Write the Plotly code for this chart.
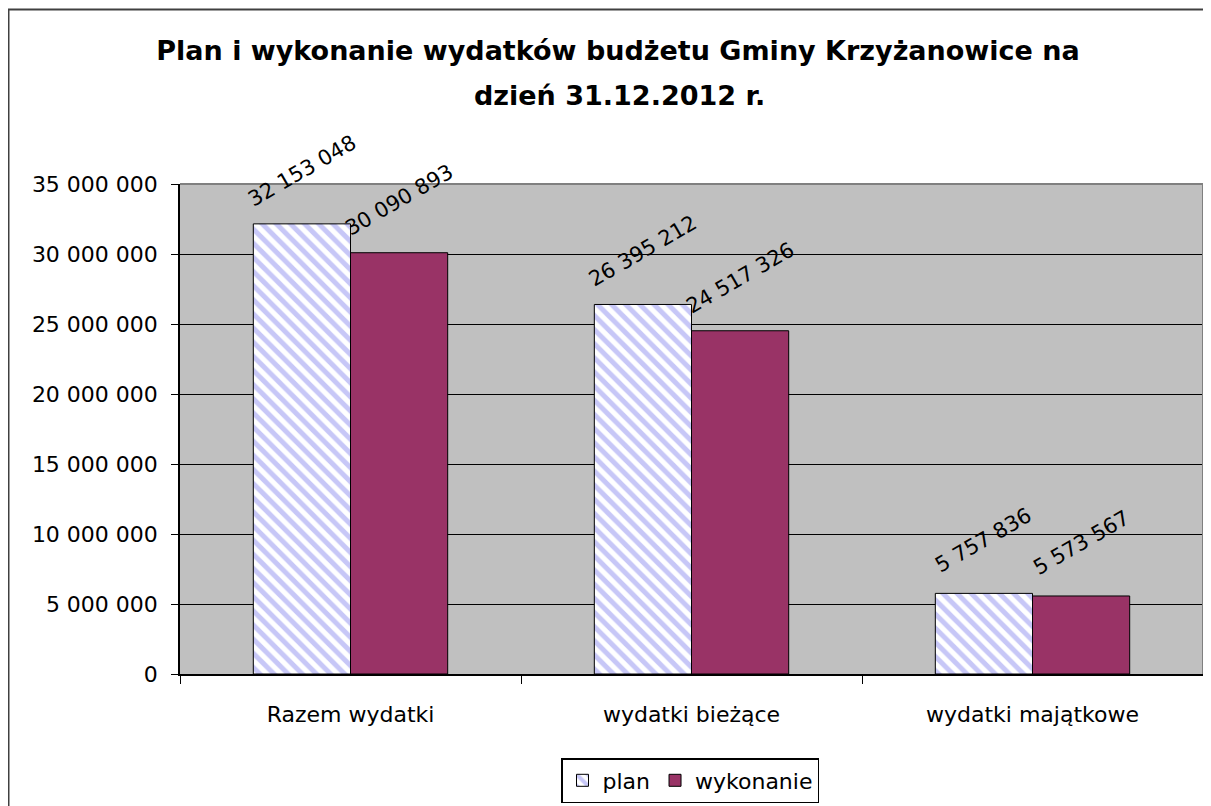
import plotly.graph_objects as go

categories = ["Razem wydatki", "wydatki bieżące", "wydatki majątkowe"]
plan = [32153048, 26395212, 5757836]
wykonanie = [30090893, 24517326, 5573567]
series_names = ["plan", "wykonanie"]
title_line1 = "Plan i wykonanie wydatków budżetu Gminy Krzyżanowice na"
title_line2 = "dzień 31.12.2012 r."
y_ticks = [0, 5000000, 10000000, 15000000, 20000000, 25000000, 30000000, 35000000]

FONT = "DejaVu Sans"
OFF = 8  # page body margin
W, H = 1211 - OFF, 806 - OFF
ML, MT = 180 - OFF, 184 - OFF
MR = W - (1203 - OFF)
MB = H - (674 - OFF)
BARGAP = 0.43


def fmt(v):
    return f"{v:,}".replace(",", " ")


pw = W - ML - MR
ph = H - MT - MB


def px_x(px):  # page px -> paper x
    return (px - OFF - ML) / pw


def px_y(py):  # page px -> paper y
    return (H - MB - (py - OFF)) / ph


fig = go.Figure()
fig.add_trace(go.Bar(
    x=categories, y=plan, name=series_names[0],
    marker=dict(color="white", line=dict(color="black", width=1),
                pattern=dict(shape="\\", fgcolor="#8f8fef", bgcolor="white",
                             size=10, solidity=0.5, fillmode="overlay")),
))
fig.add_trace(go.Bar(
    x=categories, y=wykonanie, name=series_names[1],
    marker=dict(color="#993366", line=dict(color="black", width=1)),
))

half = (1 - BARGAP) / 4
annotations = []
for i, (p, w) in enumerate(zip(plan, wykonanie)):
    for off, v in ((-half, p), (half, w)):
        annotations.append(dict(
            x=i + off, y=v, xref="x", yref="y", text=fmt(v), showarrow=False,
            textangle=-30, yshift=53, xanchor="center", yanchor="middle",
            font=dict(family=FONT, size=21, color="black"),
        ))

# second title line
annotations.append(dict(
    x=px_x(619), y=px_y(95), xref="paper", yref="paper", text="<b>" + title_line2 + "</b>",
    showarrow=False, xanchor="center", yanchor="middle",
    font=dict(family=FONT, size=27, color="black"),
))

shapes = [
    # chart outer border
    dict(type="rect", xref="paper", yref="paper",
         x0=px_x(8.5), x1=px_x(1240), y0=px_y(840), y1=px_y(9.5),
         line=dict(color="#404040", width=2), layer="below"),
    # plot area border (top and right, gray)
    dict(type="line", xref="paper", yref="paper", x0=0, x1=1, y0=1, y1=1,
         line=dict(color="#808080", width=2), layer="above"),
    dict(type="line", xref="paper", yref="paper", x0=1, x1=1, y0=0, y1=1,
         line=dict(color="#808080", width=2), layer="above"),
]

fig.update_layout(
    width=W, height=H,
    margin=dict(l=ML, r=MR, t=MT, b=MB, autoexpand=False),
    paper_bgcolor="white", plot_bgcolor="#c0c0c0",
    separators=", ",
    barmode="group", bargap=BARGAP, bargroupgap=0,
    font=dict(family=FONT, size=22, color="black"),
    title=dict(text=title_line1, x=(618 - OFF) / W, xref="container", xanchor="center",
               y=1 - (51 - OFF) / H, yref="container", yanchor="middle",
               font=dict(family=FONT, size=27, color="black", weight="bold")),
    showlegend=True,
    legend=dict(orientation="h", x=px_x(690), xanchor="center", y=px_y(758), yanchor="top",
                bordercolor="black", borderwidth=1.5, bgcolor="white",
                font=dict(family=FONT, size=22, color="black"),
                itemwidth=30, tracegroupgap=0),
    annotations=annotations,
    shapes=shapes,
)
fig.update_xaxes(
    type="category", showline=True, linecolor="black", linewidth=1.5,
    ticks="outside", tickson="boundaries", ticklen=8, tickcolor="black",
    showgrid=False, ticklabelstandoff=20, automargin=False,
    tickfont=dict(family=FONT, size=22, color="black"),
)
fig.update_yaxes(
    range=[0, 35000000], tickvals=y_ticks, tickformat=",d",
    showline=True, linecolor="black", linewidth=1.5,
    ticks="outside", ticklen=7, tickcolor="black",
    showgrid=True, gridcolor="black", gridwidth=1,
    zeroline=False, ticklabelstandoff=9, automargin=False,
    tickfont=dict(family=FONT, size=22, color="black"),
)

fig.write_html("out.html")
